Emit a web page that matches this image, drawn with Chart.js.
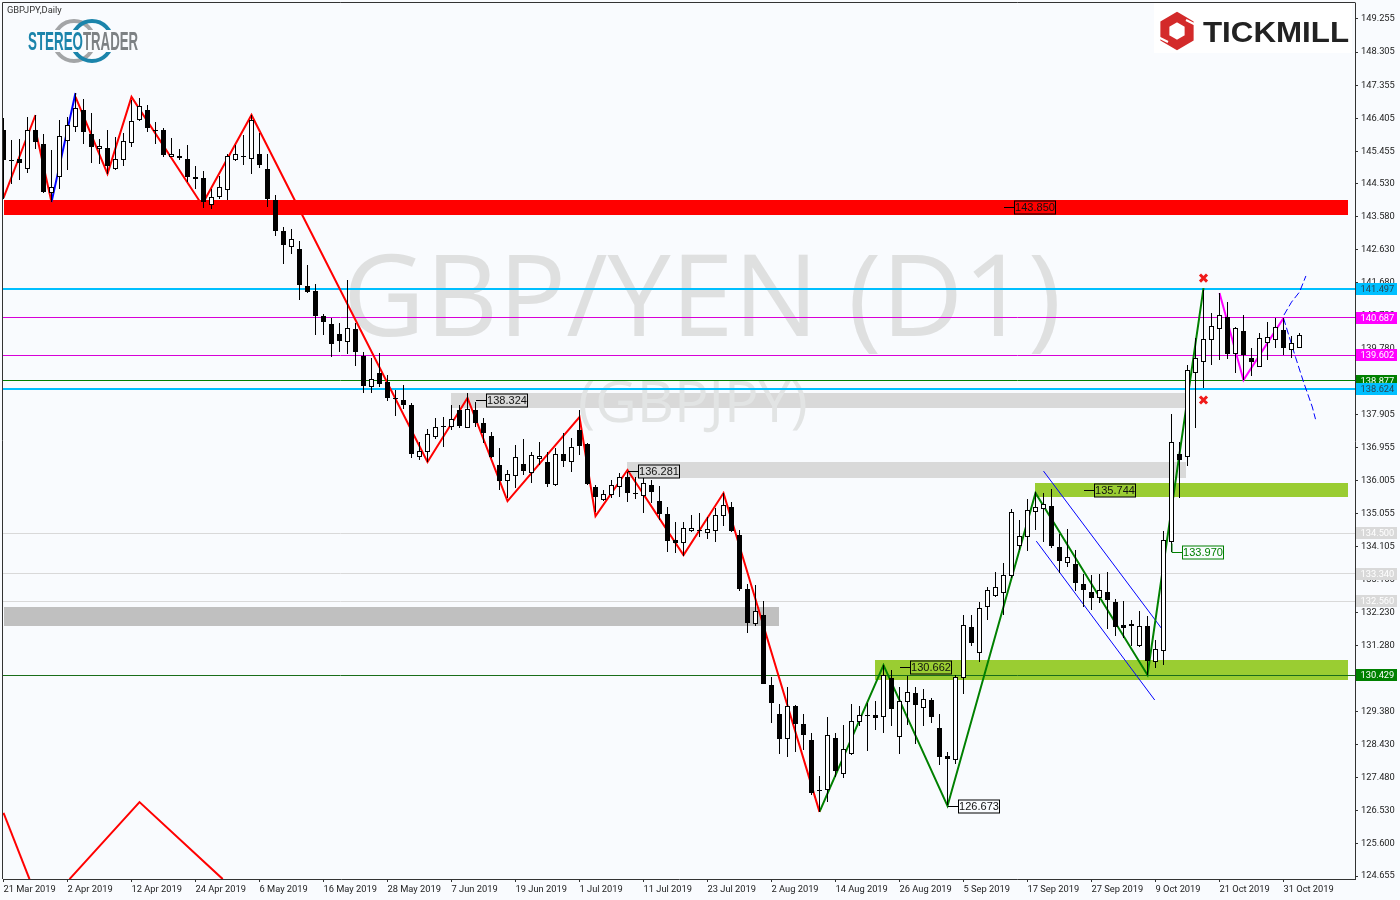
<!DOCTYPE html>
<html>
<head>
<meta charset="utf-8">
<title>GBPJPY Daily</title>
<script src="https://cdn.jsdelivr.net/npm/chart.js@4"></script>
<style>
html, body { margin: 0; padding: 0; background: #f9fbfe; }
canvas { display: block; }
</style>
</head>
<body>
<canvas id="chart" width="1400" height="900"></canvas>
<script>
// daily candles, 21 Mar 2019 - 31 Oct 2019
const opens = [
  146.06,145.20,145.25,144.94,146.08,145.66,144.27,144.71,145.76,146.16,
  146.64,145.95,145.51,145.54,144.94,145.22,145.71,146.37,146.64,146.08,
  146.06,145.30,145.31,145.25,144.67,144.68,143.92,144.15,144.36,145.21,
  145.31,145.24,145.38,144.96,144.07,143.16,142.72,142.65,141.60,141.44,
  140.72,140.51,140.21,139.99,140.35,139.58,138.70,139.09,138.85,138.38,
  138.32,138.18,136.68,136.84,137.27,137.57,137.54,138.03,137.52,138.03,
  137.65,137.29,136.45,136.00,136.15,136.47,136.23,136.64,136.54,135.89,
  136.77,136.53,137.46,137.05,135.81,135.45,135.60,135.81,136.10,135.65,
  135.57,135.88,135.42,135.05,134.30,134.21,134.57,134.58,134.51,134.57,
  135.00,135.24,134.44,132.91,131.90,132.14,130.13,129.30,128.60,129.53,
  129.01,128.57,127.14,127.12,128.63,127.60,128.17,129.09,129.29,129.27,
  129.23,130.35,128.66,129.64,129.90,129.49,129.72,128.92,128.10,128.00,
  130.33,131.80,131.07,132.38,132.70,132.77,133.27,134.14,134.38,135.11,
  135.20,135.28,134.09,133.65,133.61,133.04,132.80,132.63,132.81,132.52,
  131.86,131.82,131.27,131.83,130.79,131.12,134.24,136.77,136.68,139.10,
  139.41,140.04,140.36,140.70,139.64,140.30,139.53,139.27,139.96,140.04,
  140.33,139.75,139.81
];
const closes = [
  145.20,145.17,145.13,146.08,145.73,144.29,144.44,145.91,146.20,146.69,
  146.02,145.59,145.62,145.03,145.25,145.74,146.34,146.77,146.13,146.06,
  145.36,145.37,145.27,144.72,144.73,144.01,144.15,144.42,145.32,145.39,
  145.29,146.35,145.06,144.09,143.17,142.77,142.95,141.61,141.43,140.72,
  140.55,139.92,140.02,140.40,139.70,138.72,138.91,138.79,138.38,138.36,
  138.18,136.77,136.85,137.34,137.54,137.54,137.77,137.58,138.05,137.67,
  137.38,136.67,136.00,136.19,136.67,136.28,136.73,136.70,135.91,136.76,
  136.58,136.96,137.01,135.91,135.55,135.61,135.87,136.10,135.64,135.63,
  135.93,135.69,135.05,134.28,134.21,134.64,134.66,134.55,134.63,135.03,
  135.30,134.56,132.89,131.92,132.26,130.18,129.61,128.59,129.55,129.01,
  128.71,127.04,127.12,128.71,127.67,128.29,129.12,129.29,129.27,129.20,
  130.43,129.45,129.67,129.95,129.57,129.75,129.23,128.08,128.02,130.37,
  131.85,131.35,132.36,132.88,132.96,133.31,135.10,134.42,135.15,135.24,
  135.33,134.13,133.71,133.80,133.08,132.87,132.63,132.88,132.59,131.81,
  131.78,131.89,131.83,130.84,131.16,134.30,137.11,136.60,139.18,139.53,
  140.07,140.44,140.76,139.64,140.39,139.61,139.41,140.10,140.13,140.42,
  139.81,139.96,140.19
];
const highs = [
  146.40,145.78,145.80,146.45,146.50,145.95,145.49,146.37,146.45,147.14,
  146.97,146.57,145.80,146.08,145.87,145.97,146.93,147.00,146.78,146.30,
  146.14,145.83,145.51,145.65,145.03,144.90,144.39,144.74,145.38,145.63,
  145.92,146.50,145.97,145.38,144.20,143.29,143.24,142.87,142.19,141.66,
  140.80,140.66,140.54,141.76,140.52,139.71,139.52,139.66,139.04,138.61,
  138.75,138.22,137.12,137.48,137.79,137.82,138.18,138.18,138.51,138.27,
  137.79,137.41,136.93,136.31,137.03,137.20,136.84,137.12,136.84,136.93,
  137.36,137.22,138.03,137.08,135.88,135.74,136.02,136.22,136.26,136.12,
  136.07,136.02,135.85,135.26,134.83,134.83,135.02,135.09,134.97,135.21,
  135.66,135.40,134.58,133.05,133.01,132.55,130.37,129.59,130.07,129.56,
  129.32,128.75,127.52,129.21,128.75,128.99,129.59,129.53,129.63,129.69,
  130.71,130.57,130.09,130.39,130.07,130.04,129.78,129.32,128.22,130.42,
  132.16,132.14,132.53,132.96,133.37,133.63,135.18,134.88,135.47,135.69,
  135.64,135.76,134.47,134.61,134.01,133.34,133.30,133.33,133.38,132.60,
  132.56,132.00,132.26,132.12,131.43,134.56,137.92,137.11,139.32,140.10,
  141.48,140.82,141.39,141.13,140.42,140.76,139.81,140.24,140.56,140.67,
  140.67,140.16,140.24
];
const lows = [
  144.10,144.53,144.63,144.84,145.52,144.25,143.99,144.39,144.92,146.02,
  145.68,145.11,145.09,144.82,144.92,145.03,145.59,146.33,146.02,145.68,
  145.30,145.28,145.22,144.58,144.39,143.84,143.79,144.10,144.05,145.18,
  145.06,144.80,144.99,143.86,143.03,142.22,142.50,141.18,141.39,140.18,
  140.18,139.56,139.70,139.63,139.30,138.53,138.51,138.68,138.30,137.86,
  138.05,136.65,136.60,136.55,137.19,136.98,137.46,137.51,137.51,137.55,
  137.10,136.65,135.74,135.50,135.79,136.17,135.95,136.45,135.81,135.86,
  136.39,136.26,136.74,135.88,135.11,135.43,135.50,135.55,135.40,135.47,
  135.09,135.35,134.88,133.97,133.94,133.84,134.54,134.39,134.32,134.25,
  134.70,134.54,132.84,131.62,131.84,130.16,129.05,128.15,128.08,128.22,
  128.27,126.98,126.50,126.79,127.50,127.46,128.13,128.96,128.25,128.86,
  128.75,128.96,128.15,128.99,128.44,128.96,129.05,127.84,126.69,127.87,
  129.88,131.25,130.80,132.00,132.67,132.14,133.20,134.01,133.99,134.59,
  134.25,134.06,133.36,133.54,132.85,132.39,132.29,132.48,131.76,131.54,
  131.48,131.26,131.24,130.43,130.64,130.71,133.96,135.51,136.43,137.52,
  138.66,139.32,139.47,139.50,139.10,138.89,139.01,139.27,139.47,139.81,
  139.61,139.53,139.81
];

// axis labels
const xTickIndex = [0,8,16,24,32,40,48,56,64,72,80,88,96,104,112,120,128,136,144,152,160];
const xTickLabels = ['21 Mar 2019','2 Apr 2019','12 Apr 2019','24 Apr 2019','6 May 2019','16 May 2019','28 May 2019',
  '7 Jun 2019','19 Jun 2019','1 Jul 2019','11 Jul 2019','23 Jul 2019','2 Aug 2019','14 Aug 2019','26 Aug 2019',
  '5 Sep 2019','17 Sep 2019','27 Sep 2019','9 Oct 2019','21 Oct 2019','31 Oct 2019'];
const yTicks = [149.255,148.305,147.355,146.405,145.455,144.530,143.580,142.630,141.680,140.730,139.780,138.855,137.905,
  136.955,136.005,135.055,134.105,133.155,132.230,131.280,130.330,129.380,128.430,127.480,126.530,125.600,124.655];

// zigzags: [candle index], [price]
const redA_x = [0, 4];            const redA_y = [144.12, 146.50];
const redB_x = [4, 6];            const redB_y = [146.07, 144.00];
const blueA_x = [6, 9];           const blueA_y = [144.00, 147.13];
const redC_x = [9, 13, 16, 24.5]; const redC_y = [147.02, 144.81, 147.02, 144.03];
const redD_x = [25, 31, 53, 58, 63, 72, 74, 78, 85, 90, 102];
const redD_y = [144.00, 146.50, 136.54, 138.38, 135.42, 137.83, 134.99, 136.31, 133.87, 135.65, 126.50];
const green_x = [102, 110, 118, 129, 143, 150];
const green_y = [126.50, 130.71, 126.67, 135.65, 130.43, 141.53];
const magenta_x = [152, 155, 160];
const magenta_y = [141.39, 138.89, 140.67];
// lower left pattern, runs off the bottom of the chart
const redE_x = [0, 3.25];         const redE_y = [126.47, 124.57];
const redF_x = [8.25, 17, 27.4];  const redF_y = [124.57, 126.78, 124.57];
// falling channel
const chanUp_x = [130, 145];      const chanUp_y = [136.28, 131.69];
const chanLow_x = [129.1, 143.9]; const chanLow_y = [134.27, 129.71];
// projections
const projUp_x = [160.06, 161, 162, 162.8];       const projUp_y = [140.76, 141.13, 141.42, 141.88];
const projDn_x = [160, 161.5, 162.5, 163.6, 164]; const projDn_y = [140.67, 139.55, 138.84, 138.12, 137.77];
const cross_x = [150, 150];       const cross_y = [141.82, 138.32];

// horizontal levels
const levelPrices = [141.497, 140.687, 139.602, 138.877, 138.624, 134.500, 133.340, 132.560, 130.429];

// zones
const zoneStart = [0, 55.9, 77.9, 0, 108.9, 128.9];
const zoneEnd = [168, 147.7, 147.8, 96.9, 168, 168];
const zoneTop = [144.06, 138.52, 136.54, 132.38, 130.86, 135.94];
const zoneBottom = [143.63, 138.09, 136.08, 131.83, 130.28, 135.54];

// callouts
const calloutPrices = [143.850, 138.324, 136.281, 130.662, 126.673, 135.744, 133.970];
const calloutIndex = [125, 59, 78, 112, 118, 135, 146];

const candleIndex = opens.map((_, i) => i);

// styles
const BG = '#f9fbfe';
const CYAN = '#00bfff';
const MAGENTA = '#d800d8';
const DARK_GREEN = '#008000';
const LIGHT_GREY = '#d9d9d9';
const levelColors = [CYAN, MAGENTA, MAGENTA, DARK_GREEN, CYAN, LIGHT_GREY, LIGHT_GREY, LIGHT_GREY, '#1a6e1a'];
const levelWidths = [2, 1, 1, 1, 2, 1, 1, 1, 1];
const tagColors = [CYAN, '#ff00ff', '#ff00ff', DARK_GREEN, CYAN, LIGHT_GREY, LIGHT_GREY, LIGHT_GREY, DARK_GREEN];
const tagTextColors = ['#2a4552', '#ffffff', '#ffffff', '#ffffff', '#2a4552', '#ffffff', '#ffffff', '#ffffff', '#ffffff'];
const zoneColors = ['#ff0000', LIGHT_GREY, LIGHT_GREY, '#c0c0c0', '#9acd32', '#9acd32'];
const calloutColors = ['#ff0000', LIGHT_GREY, LIGHT_GREY, '#9acd32', BG, '#9acd32', BG];
const AXIS_FONT = { family: 'Roboto', size: 9.3 };

function line(xs, ys, color, width, order, dash) {
  return {
    type: 'line',
    data: xs.map((x, i) => ({ x: x, y: ys[i] })),
    borderColor: color,
    borderWidth: width,
    borderDash: dash || [],
    pointRadius: 0,
    tension: 0,
    order: order
  };
}

// snap candles and level lines to whole pixels so they stay sharp like the platform draws them
const snapPlugin = {
  id: 'snap',
  afterDatasetsUpdate(chart) {
    chart.data.datasets.forEach((ds, i) => {
      const meta = chart.getDatasetMeta(i);
      if (ds.snapBar) {
        meta.data.forEach(el => {
          el.y = Math.round(el.y);
          el.base = Math.round(el.base);
          if (el.y === el.base) el.base = el.y + 1;
        });
      }
      if (ds.snapLine) {
        const odd = ds.borderWidth % 2 === 1;
        meta.data.forEach(el => {
          el.y = odd ? Math.floor(el.y + 0.3) + 0.5 : Math.round(el.y);
        });
      }
    });
  }
};

// zones and the big background titles sit under everything else
const backdropPlugin = {
  id: 'backdrop',
  beforeDatasetsDraw(chart) {
    const { ctx, scales: { x, y } } = chart;
    ctx.save();
    zoneStart.forEach((s, i) => {
      const left = Math.round(x.getPixelForValue(s));
      const top = Math.round(y.getPixelForValue(zoneTop[i]));
      ctx.fillStyle = zoneColors[i];
      ctx.fillRect(left, top, Math.round(x.getPixelForValue(zoneEnd[i])) - left, Math.round(y.getPixelForValue(zoneBottom[i])) - top);
    });
    ctx.textAlign = 'left';
    ctx.textBaseline = 'alphabetic';
    ctx.fillStyle = '#dfe0e0';
    ctx.font = '113px "Open Sans"';
    ctx.fillText('GBP/YEN (D1)', 343, 336);
    ctx.fillStyle = '#e2e4e4';
    ctx.font = '57.5px "Open Sans"';
    ctx.fillText('(GBPJPY)', 578, 422);
    ctx.restore();
  }
};

function fitText(ctx, text, x, baseline, width) {
  const w = ctx.measureText(text).width;
  ctx.save();
  ctx.translate(x, baseline);
  ctx.scale(width / w, 1);
  ctx.fillText(text, 0, 0);
  ctx.restore();
}

function drawStereoTrader(ctx) {
  ctx.lineWidth = 4;
  ctx.strokeStyle = '#a3a5a7';
  ctx.beginPath(); ctx.arc(74, 41, 20, 0, Math.PI * 2); ctx.stroke();
  ctx.strokeStyle = '#1b84ab';
  ctx.beginPath(); ctx.arc(92, 41, 20, 0, Math.PI * 2); ctx.stroke();
  ctx.fillStyle = BG;
  ctx.fillRect(26, 30, 114, 22);
  ctx.font = 'bold 25px "Liberation Sans"';
  ctx.textBaseline = 'alphabetic';
  ctx.textAlign = 'left';
  ctx.fillStyle = '#1b84ab';
  fitText(ctx, 'STEREO', 28, 50, 55);
  ctx.fillStyle = '#7d8184';
  fitText(ctx, 'TRADER', 83, 50, 55);
}

function drawTickmill(ctx) {
  ctx.fillStyle = '#ffffff';
  ctx.fillRect(1154, 3, 198, 50);
  ctx.strokeStyle = '#d32a2a';
  ctx.lineWidth = 9;
  ctx.beginPath();
  for (let k = 0; k < 6; k++) {
    const a = Math.PI / 3 * k - Math.PI / 2;
    const px = 1177 + 14 * Math.cos(a);
    const py = 31 + 14 * Math.sin(a);
    if (k === 0) ctx.moveTo(px, py); else ctx.lineTo(px, py);
  }
  ctx.closePath();
  ctx.stroke();
  // the two slashes in the hexagon
  ctx.strokeStyle = '#ffffff';
  ctx.lineWidth = 2;
  ctx.beginPath();
  ctx.moveTo(1186, 20); ctx.lineTo(1196, 25);
  ctx.moveTo(1158, 37); ctx.lineTo(1168, 42);
  ctx.stroke();
  ctx.fillStyle = '#222222';
  ctx.font = 'bold 29px "Liberation Sans"';
  ctx.textBaseline = 'alphabetic';
  ctx.textAlign = 'left';
  fitText(ctx, 'TICKMILL', 1203, 42, 146);
}

const overlayPlugin = {
  id: 'overlay',
  afterDraw(chart) {
    const { ctx, chartArea, scales: { x, y } } = chart;
    ctx.save();

    // frame, the axes only give the right and bottom sides
    ctx.strokeStyle = '#333333';
    ctx.lineWidth = 1;
    ctx.beginPath();
    ctx.moveTo(2.5, chartArea.bottom);
    ctx.lineTo(2.5, 2.5);
    ctx.lineTo(chartArea.right + 0.5, 2.5);
    ctx.stroke();

    // boxed price callouts next to the chart objects
    calloutPrices.forEach((price, i) => {
      const py = Math.round(y.getPixelForValue(price)) + 0.5;
      const sx = Math.round(x.getPixelForValue(calloutIndex[i]));
      const stroke = i === 6 ? DARK_GREEN : '#000000';
      const bx = sx + 10;
      ctx.strokeStyle = stroke;
      ctx.beginPath();
      if (i === 6) ctx.moveTo(sx, py - 9); else ctx.moveTo(sx, py);
      if (i === 6) ctx.lineTo(sx, py);
      ctx.lineTo(bx, py);
      ctx.stroke();
      ctx.fillStyle = calloutColors[i];
      ctx.fillRect(bx + 0.5, py - 6.5, 41, 13);
      ctx.strokeRect(bx + 0.5, py - 6.5, 41, 13);
      ctx.fillStyle = i === 6 ? DARK_GREEN : '#111111';
      ctx.font = '11px "Liberation Sans"';
      ctx.textAlign = 'center';
      ctx.textBaseline = 'middle';
      ctx.fillText(price.toFixed(3), bx + 21, py + 0.5);
    });

    // price tags on the right axis
    levelPrices.forEach((price, i) => {
      const py = Math.round(y.getPixelForValue(price));
      ctx.fillStyle = tagColors[i];
      ctx.fillRect(1356, py - 6, 41, 12);
      ctx.fillStyle = tagTextColors[i];
      ctx.font = '9.3px Roboto';
      ctx.textAlign = 'left';
      ctx.textBaseline = 'middle';
      ctx.fillText(price.toFixed(3), 1360.5, py + 0.5);
    });

    drawStereoTrader(ctx);
    drawTickmill(ctx);

    ctx.fillStyle = '#333333';
    ctx.font = '9.3px Roboto';
    ctx.textAlign = 'left';
    ctx.textBaseline = 'middle';
    ctx.fillText('GBPJPY,Daily', 7, 10.5);
    ctx.restore();
  }
};

const datasets = [
  // bodies on top, then wicks
  {
    type: 'bar',
    snapBar: true,
    data: candleIndex.map(i => ({ x: i, y: [opens[i], closes[i]] })),
    backgroundColor: candleIndex.map(i => closes[i] > opens[i] ? '#ffffff' : '#000000'),
    borderColor: '#000000',
    borderWidth: 1,
    borderSkipped: false,
    inflateAmount: 0,
    barThickness: 5,
    grouped: false,
    order: 1
  },
  {
    type: 'bar',
    snapBar: true,
    data: candleIndex.map(i => ({ x: i, y: [lows[i], highs[i]] })),
    backgroundColor: '#000000',
    borderWidth: 0,
    inflateAmount: 0,
    barThickness: 1,
    grouped: false,
    order: 2
  },
  // red crosses above the candles
  {
    type: 'scatter',
    data: cross_x.map((x, i) => ({ x: x, y: cross_y[i] })),
    pointStyle: 'crossRot',
    pointRadius: 5,
    pointBorderColor: '#f01a1a',
    pointBorderWidth: 3,
    showLine: false,
    order: 0
  },
  line(redA_x, redA_y, '#ff0000', 2, 3),
  line(redB_x, redB_y, '#ff0000', 2, 3),
  line(blueA_x, blueA_y, '#0000ff', 2, 3),
  line(redC_x, redC_y, '#ff0000', 2, 3),
  line(redD_x, redD_y, '#ff0000', 2, 3),
  line(green_x, green_y, '#008000', 2, 3),
  line(magenta_x, magenta_y, '#ff00ff', 2, 3),
  line(redE_x, redE_y, '#ff0000', 2, 3),
  line(redF_x, redF_y, '#ff0000', 2, 3),
  line(chanUp_x, chanUp_y, '#0000ff', 1, 3),
  line(chanLow_x, chanLow_y, '#0000ff', 1, 3),
  line(projUp_x, projUp_y, '#0000ff', 1, 3, [7, 3]),
  line(projDn_x, projDn_y, '#0000ff', 1, 3, [7, 3])
];

levelPrices.forEach((price, i) => {
  const level = line([-1, 170], [price, price], levelColors[i], levelWidths[i], 4);
  level.snapLine = true;
  datasets.push(level);
});

new Chart(document.getElementById('chart'), {
  type: 'bar',
  data: { datasets: datasets },
  plugins: [snapPlugin, backdropPlugin, overlayPlugin],
  options: {
    responsive: false,
    animation: false,
    devicePixelRatio: 1,
    layout: { autoPadding: false, padding: { left: 3, top: 3, right: 0, bottom: 0 } },
    plugins: { legend: { display: false }, tooltip: { enabled: false } },
    scales: {
      x: {
        type: 'linear',
        offset: false,
        min: -0.0625,
        max: 168.9375,
        afterFit(axis) {
          axis.height = 21;
          axis.paddingLeft = 0;
          axis.paddingRight = 0;
        },
        afterBuildTicks(axis) { axis.ticks = xTickIndex.map(v => ({ value: v })); },
        border: { color: '#333333', width: 1 },
        grid: { offset: false, drawOnChartArea: false, tickLength: 3, tickColor: '#333333' },
        ticks: {
          font: AXIS_FONT,
          color: '#222222',
          align: 'start',
          autoSkip: false,
          maxRotation: 0,
          padding: 2,
          callback: v => xTickLabels[xTickIndex.indexOf(v)]
        }
      },
      y: {
        type: 'linear',
        position: 'right',
        min: 124.573,
        max: 149.714,
        afterFit(axis) {
          axis.width = 45;
          axis.paddingTop = 0;
          axis.paddingBottom = 0;
        },
        afterBuildTicks(axis) { axis.ticks = yTicks.map(v => ({ value: v })); },
        border: { color: '#333333', width: 1 },
        grid: { drawOnChartArea: false, tickLength: 3, tickColor: '#333333' },
        ticks: {
          font: AXIS_FONT,
          color: '#222222',
          autoSkip: false,
          padding: 3,
          callback: v => v.toFixed(3)
        }
      }
    }
  }
});
</script>
</body>
</html>
